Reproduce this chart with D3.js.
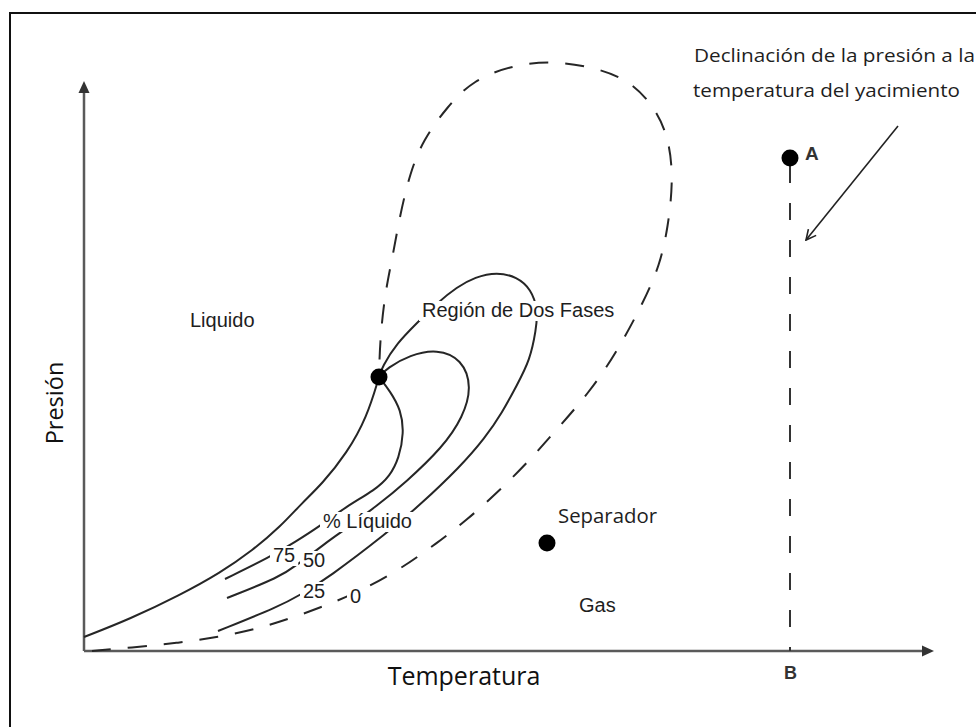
<!DOCTYPE html>
<html>
<head>
<meta charset="utf-8">
<script src="https://cdn.jsdelivr.net/npm/d3@7"></script>
<style>
  body { margin: 0; background: #fff; }
  svg  { display: block; }
</style>
</head>
<body>
<div id="graph"></div>
<script>
// Phase envelope, [temperature, pressure] pairs (arbitrary units)
var bubbleCurve = [ [0,14], [46,32], [96,56], [136,78], [169,101], [196,124], [218,148],
                    [238,167], [263,198], [283,234], [295,274] ];

var dewCurve = [ [8,0], [54,4], [94,8], [134,14], [173,22], [211,34], [256,51], [284,64],
                 [318,83], [353,108], [383,131], [416,161], [443,188], [466,214], [506,259],
                 [534,301], [559,348], [576,386], [584,424], [589,468], [586,508], [573,541],
                 [546,571], [509,584], [469,590], [429,586], [389,571], [363,544], [339,511],
                 [326,478], [316,436], [308,391], [301,358], [296,311], [295,274] ];

// Quality lines (% liquid)
var line75 = [ [141,72], [186,94], [211,109], [236,125], [263,145], [291,161], [306,175],
               [315,193], [320,218], [317,241], [306,260], [295,274] ];

var line50 = [ [143,53], [196,74], [213,86], [243,109], [256,118], [294,146], [321,168],
               [359,204], [379,234], [388,264], [378,292], [353,302], [326,296], [303,283],
               [295,274] ];

var line25 = [ [134,20], [196,45], [216,56], [244,73], [303,118], [336,146], [376,184],
               [401,213], [418,238], [433,266], [446,291], [452,321], [454,341], [447,362],
               [433,374], [413,379], [391,374], [373,364], [353,348], [333,328], [313,308],
               [298,284], [295,274] ];

var criticalPoint  = [295, 274];
var separatorPoint = [463, 108];
var reservoirT     = 706;
var pointA         = [706, 493];

// Labels: text, [T, P] anchor, knock out the lines behind it
var regionLabels  = [ ['Liquido', [106, 324], false],
                      ['Región de Dos Fases', [338, 334], true],
                      ['% Líquido', [239, 123], true],
                      ['Gas', [495, 39], false] ];
var qualityLabels = [ ['75', [189, 89]], ['50', [219, 84]], ['25', [219, 53]], ['0', [266, 48]] ];

var width  = 976;
var height = 727;

var x = d3.scaleLinear().domain([0, 850]).range([84, 934]);
var y = d3.scaleLinear().domain([0, 570]).range([651, 81]);

var svg = d3.select('#graph').append('svg')
            .attr('width', width)
            .attr('height', height);

var defs = svg.append('defs');
defs.append('marker')
    .attr('id', 'open')
    .attr('viewBox', '0 0 12 12')
    .attr('refX', 11).attr('refY', 6)
    .attr('markerWidth', 12).attr('markerHeight', 12)
    .attr('markerUnits', 'userSpaceOnUse')
    .attr('orient', 'auto')
    .append('path')
    .attr('d', 'M1,1 L11,6 L1,11')
    .attr('fill', 'none')
    .attr('stroke', '#222')
    .attr('stroke-width', 1.6);

// frame
svg.append('rect')
   .attr('x', 10).attr('y', 13)
   .attr('width', 1000).attr('height', 1000)
   .attr('fill', 'none')
   .attr('stroke', '#111')
   .attr('stroke-width', 2);

// axes
var axisCol = '#5a5a5a';
svg.append('line')
   .attr('x1', x(0)).attr('y1', y(0))
   .attr('x2', x(0)).attr('y2', y(570) + 10)
   .attr('stroke', axisCol).attr('stroke-width', 2.5);
svg.append('line')
   .attr('x1', x(0)).attr('y1', y(0))
   .attr('x2', x(850) - 10).attr('y2', y(0))
   .attr('stroke', axisCol).attr('stroke-width', 2.5);
svg.append('path')
   .attr('d', 'M' + x(0) + ',' + y(570) + ' l-5.5,12 l11,0 z')
   .attr('fill', '#333');
svg.append('path')
   .attr('d', 'M' + x(850) + ',' + y(0) + ' l-12,-5.5 l0,11 z')
   .attr('fill', '#333');

var line = d3.line()
             .x(function (d) { return x(d[0]); })
             .y(function (d) { return y(d[1]); })
             .curve(d3.curveBasis);

var ink = '#262626';

svg.append('path').datum(dewCurve)
   .attr('d', line)
   .attr('fill', 'none').attr('stroke', ink)
   .attr('stroke-width', 2).attr('stroke-dasharray', '19,17');

[bubbleCurve, line75, line50, line25].forEach(function (c) {
    svg.append('path').datum(c)
       .attr('d', line)
       .attr('fill', 'none').attr('stroke', ink)
       .attr('stroke-width', 2);
});

// reservoir depletion line A-B
svg.append('line')
   .attr('x1', x(reservoirT)).attr('y1', y(pointA[1]) + 8)
   .attr('x2', x(reservoirT)).attr('y2', y(0))
   .attr('stroke', '#333').attr('stroke-width', 2)
   .attr('stroke-dasharray', '17,20');

// dots
[criticalPoint, separatorPoint, pointA].forEach(function (p) {
    svg.append('circle')
       .attr('cx', x(p[0])).attr('cy', y(p[1]))
       .attr('r', 8.5).attr('fill', '#000');
});

// labels with knockout background
var addLabel = function (txt, pos, size, knock)
{
    var t = svg.append('text')
               .attr('x', x(pos[0])).attr('y', y(pos[1]))
               .attr('font-family', '"Liberation Sans", Arial, sans-serif')
               .attr('font-size', size)
               .attr('fill', '#1e1e1e')
               .text(txt);
    if (knock)
    {
        var b = t.node().getBBox();
        svg.insert('rect', function () { return t.node(); })
           .attr('x', b.x - 3).attr('y', b.y + 2)
           .attr('width', b.width + 6).attr('height', b.height - 2)
           .attr('fill', '#fff');
    }
    return t;
};

regionLabels.forEach(function (l) { addLabel(l[0], l[1], 20, l[2]); });
qualityLabels.forEach(function (l) { addLabel(l[0], l[1], 20, true); });

addLabel('A', [pointA[0] + 15, pointA[1] - 2], 19, false).attr('font-weight', 'bold').attr('fill', '#333');
addLabel('B', [reservoirT - 6, -28], 18, false).attr('font-weight', 'bold').attr('fill', '#333');

var calib = '"Open Sans", "Noto Sans", sans-serif';

svg.append('text')
   .attr('x', x(separatorPoint[0]) + 11).attr('y', y(separatorPoint[1]) - 20)
   .attr('font-family', calib).attr('font-size', 19.5).attr('fill', '#1e1e1e')
   .attr('textLength', 99).attr('lengthAdjust', 'spacingAndGlyphs')
   .text('Separador');

svg.append('text')
   .attr('x', 694).attr('y', 62)
   .attr('font-family', calib).attr('font-size', 18.5).attr('fill', '#1e1e1e')
   .attr('textLength', 281).attr('lengthAdjust', 'spacingAndGlyphs')
   .text('Declinación  de la presión a la');
svg.append('text')
   .attr('x', 693).attr('y', 97)
   .attr('font-family', calib).attr('font-size', 18.5).attr('fill', '#1e1e1e')
   .attr('textLength', 267).attr('lengthAdjust', 'spacingAndGlyphs')
   .text('temperatura  del yacimiento');

// annotation arrow
svg.append('line')
   .attr('x1', 898).attr('y1', 126)
   .attr('x2', 806).attr('y2', 240)
   .attr('stroke', '#222').attr('stroke-width', 1.6)
   .attr('marker-end', 'url(#open)');

// axis titles
svg.append('text')
   .attr('x', 464).attr('y', 685)
   .attr('text-anchor', 'middle')
   .attr('font-family', calib).attr('font-size', 25).attr('fill', '#111')
   .text('Temperatura');
svg.append('text')
   .attr('transform', 'translate(63,403) rotate(-90)')
   .attr('text-anchor', 'middle')
   .attr('font-family', calib).attr('font-size', 23.5).attr('fill', '#111')
   .text('Presión');
</script>
</body>
</html>
